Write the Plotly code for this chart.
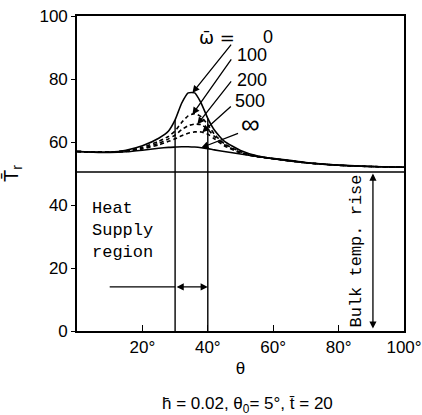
import numpy as np
import plotly.graph_objects as go

theta = [0, 5, 10, 15, 20, 25, 28, 30, 32, 34, 36, 38, 40, 42, 45, 50, 55, 60, 70, 80, 90, 100]
T_w0 = [57, 56.8, 56.8, 57.4, 58.8, 61.2, 63.5, 67, 72.3, 75.6, 75.6, 72.3, 67.5, 63.8, 60.3, 57.3, 55.6, 54.7, 53.4, 52.6, 52.2, 52.0]
T_w100 = [57, 56.8, 56.8, 57.2, 58.3, 60.2, 61.8, 63.5, 66.2, 68.3, 69.0, 68.0, 65.5, 62.5, 59.5, 56.9, 55.5, 54.7, 53.4, 52.6, 52.2, 52.0]
T_w200 = [57, 56.8, 56.8, 57.1, 58.0, 59.6, 61.0, 62.2, 63.9, 65.2, 65.7, 65.5, 64.0, 61.8, 59.2, 56.7, 55.4, 54.7, 53.4, 52.6, 52.2, 52.0]
T_w500 = [57, 56.8, 56.8, 57.0, 57.8, 59.1, 60.2, 61.0, 62.0, 62.8, 63.2, 63.2, 62.5, 61.0, 58.8, 56.5, 55.3, 54.7, 53.4, 52.6, 52.2, 52.0]
T_inf = [57, 56.8, 56.7, 56.9, 57.4, 58.0, 58.3, 58.4, 58.5, 58.5, 58.4, 58.2, 57.9, 57.5, 57.0, 56.2, 55.4, 54.8, 53.5, 52.7, 52.2, 52.0]

omega_labels = ["0", "100", "200", "500", "∞"]
bulk_level = 50.5
heat_start, heat_end = 30, 40
heat_arrow_y = 14
bulk_arrow_x = 90.5
x_ticks = [20, 40, 60, 80, 100]
x_ticklabels = ["20°", "40°", "60°", "80°", "100°"]
y_ticks = [0, 20, 40, 60, 80, 100]

fig = go.Figure()
series = [T_w0, T_w100, T_w200, T_w500, T_inf]
dashes = ["solid", "4px,3px", "4px,3px", "4px,3px", "solid"]
for s, d in zip(series, dashes):
    fig.add_trace(go.Scatter(x=theta, y=s, mode="lines",
                             line=dict(color="black", width=1.6, dash=d, shape="spline", smoothing=0.5),
                             showlegend=False, hoverinfo="skip"))

shapes = []
shapes.append(dict(type="line", xref="x", yref="y", x0=0, x1=100, y0=bulk_level, y1=bulk_level,
                   line=dict(color="black", width=1.6)))
for hx in (heat_start, heat_end):
    shapes.append(dict(type="line", xref="x", yref="y", x0=hx, x1=hx, y0=0,
                       y1=float(np.interp(hx, theta, T_w0)), line=dict(color="black", width=1.4)))
shapes.append(dict(type="line", xref="x", yref="y", x0=10, x1=heat_start, y0=heat_arrow_y, y1=heat_arrow_y,
                   line=dict(color="black", width=1.4)))
fig.update_layout(shapes=shapes)

ann = []
def arrow(x, y, ax, ay, head=2, start=0):
    ann.append(dict(x=x, y=y, ax=ax, ay=ay, xref="x", yref="y", axref="x", ayref="y", text="", showarrow=True,
                    arrowhead=head, arrowsize=1.1, arrowwidth=1.3, arrowcolor="black", startarrowhead=head,
                    arrowside="end+start" if start else "end", startarrowsize=1.1))

arrow(heat_end, heat_arrow_y, heat_start, heat_arrow_y, start=1)
arrow(bulk_arrow_x, bulk_level - 0.5, bulk_arrow_x, 0.3, start=1)

heads = [(35.3, T_w0), (35.3, T_w100), (36.8, T_w200), (38.3, T_w500), (38.0, T_inf)]
tails = [(47.5, 91.4), (47.5, 86.7), (47.5, 79.7), (47.5, 71.7), (49.7, 62.9)]
for (hx, s), (tx, ty) in zip(heads, tails):
    arrow(hx, float(np.interp(hx, theta, s)), tx, ty, head=2)

lab_font = dict(family="Liberation Sans", size=18, color="black")
ann.append(dict(x=36.8, y=93.3, xref="x", yref="y", text="ω̄ =", showarrow=False,
                font=dict(family="DejaVu Sans", size=18, color="black"), xanchor="left"))
lab_pos = [(58.5, 93.3), (53.4, 87.6), (53.4, 79.7), (52.8, 72.9), (53.2, 65.6)]
for t, (lx, ly) in zip(omega_labels, lab_pos):
    f = dict(lab_font)
    if t == "∞":
        f["size"] = 26
    ann.append(dict(x=lx, y=ly, xref="x", yref="y", text=t, showarrow=False, font=f))

mono = dict(family="Liberation Mono", size=17, color="black")
ann.append(dict(x=4, y=42.5, xref="x", yref="y", text="Heat<br>Supply<br>region", showarrow=False, font=mono,
                xanchor="left", yanchor="top", align="left"))
ann.append(dict(x=85.5, y=0.5, xref="x", yref="y", text="Bulk temp. rise", showarrow=False, font=mono,
                textangle=-90, xanchor="center", yanchor="bottom"))
ann.append(dict(x=0.52, y=-0.235, xref="paper", yref="paper", yanchor="middle",
                text="h̄ = 0.02, θ<sub>0</sub>= 5°, t̄ = 20", showarrow=False,
                font=dict(family="Liberation Sans", size=17, color="black")))
fig.update_layout(annotations=ann)

tickfont = dict(family="Liberation Sans", size=17, color="black")
fig.update_xaxes(range=[0, 100], tickvals=x_ticks, ticktext=x_ticklabels, ticks="inside", ticklen=6,
                 tickcolor="black", tickfont=tickfont, showline=True, linecolor="black", linewidth=1.6,
                 mirror=True, showgrid=False, zeroline=False, automargin=False,
                 title=dict(text="θ", font=dict(family="Liberation Sans", size=17, color="black"), standoff=6))
fig.update_yaxes(range=[0, 100], tickvals=y_ticks, ticks="outside", ticklen=4, tickcolor="black",
                 tickfont=tickfont, showline=True, linecolor="black", linewidth=1.6, mirror=True,
                 showgrid=False, zeroline=False, automargin=False,
                 title=dict(text="T̄<sub>r</sub>", font=dict(family="Liberation Sans", size=20, color="black"),
                            standoff=22))

fig.update_layout(width=422, height=415, margin=dict(l=77, r=18, t=16, b=84),
                  plot_bgcolor="white", paper_bgcolor="white")
fig.write_html("out.html")
